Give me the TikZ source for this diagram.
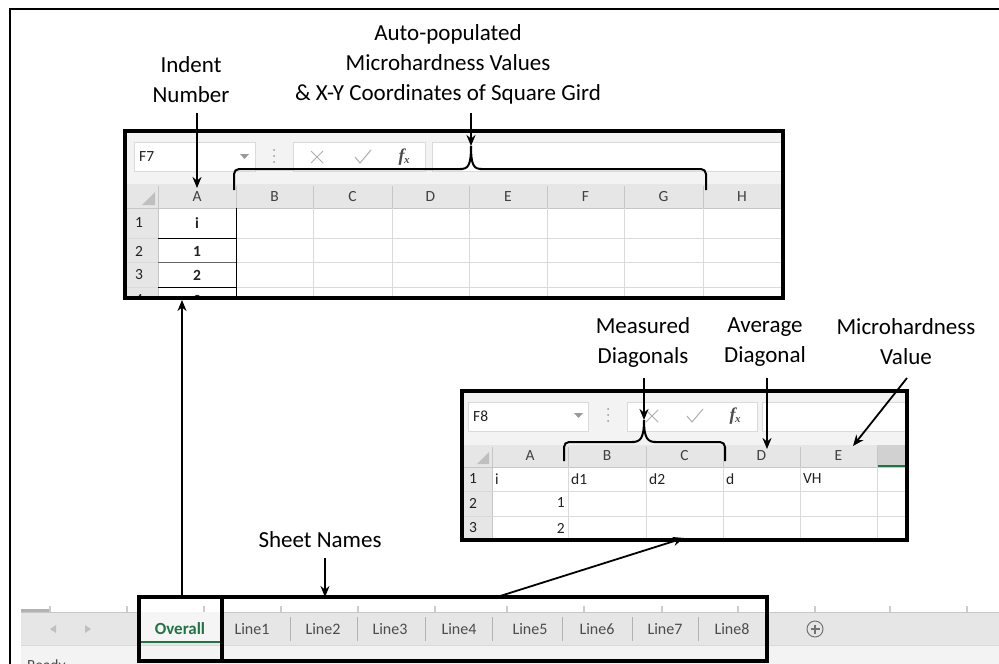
\documentclass[tikz,border=0pt]{standalone}
\usepackage{fontspec}
\setmainfont{Carlito}
\usetikzlibrary{arrows.meta}
\definecolor{hdr}{HTML}{E6E6E6}
\definecolor{bar}{HTML}{F3F3F3}
\definecolor{gridc}{HTML}{DADADA}
\definecolor{hline}{HTML}{C6C6C6}
\definecolor{xlgreen}{HTML}{217346}
\definecolor{txt}{HTML}{222222}
\definecolor{soft}{HTML}{9A9A9A}
\tikzset{
  lbl/.style={font=\fontsize{23}{30}\selectfont, align=center, inner sep=0pt},
  cellt/.style={font=\fontsize{15.5}{17}\selectfont, text=txt, inner sep=0pt},
  hdrt/.style={font=\fontsize{15.5}{17}\selectfont, text=black!75, inner sep=0pt},
  tabt/.style={font=\fontsize{16}{18}\selectfont, text=black!70, inner sep=0pt},
  arr/.style={line width=1.8pt, -{Stealth[length=11pt,width=9pt]}},
  bigbox/.style={draw, line width=3.2pt, inner sep=0pt},
  brace/.style={line width=2pt, rounded corners=5pt},
  whitebox/.style={fill=white, draw=gridc, line width=0.8pt}
}
\newcommand{\fxglyph}{{\fontspec{Liberation Serif}\itshape\bfseries f\kern-0.5pt\raisebox{-2pt}{\fontsize{11}{11}\selectfont x}}}
\begin{document}
\begin{tikzpicture}[x=1pt,y=-1pt]
\useasboundingbox (0,0) rectangle (999,664);
\fill[white] (0,0) rectangle (999,664);
% outer frame
\draw[line width=2.5pt] (10,664) -- (10,9) -- (999,9);

% ---------- labels ----------
\node[lbl] (indent) at (191,80) {Indent\\Number};
\node[lbl] (auto) at (448,64) {Auto-populated\\Microhardness Values\\\& X-Y Coordinates of Square Gird};
\node[lbl] (meas) at (643,342) {Measured\\Diagonals};
\node[lbl] (avg) at (765,342) {Average\\Diagonal};
\node[lbl] (vh) at (906,342) {Microhardness\\Value};
\node[lbl] (sheetn) at (320,540) {Sheet Names};

% ---------- top sheet ----------
\begin{scope}
\clip (125,131) rectangle (783,298);
\fill[bar] (125,131) rectangle (783,184);
\fill[whitebox] (134,142) rectangle (255,171);
\node[cellt, anchor=west] (f7) at (139,157) {F7};
\fill[soft] (240,154) -- (249,154) -- (244.5,159) -- cycle;
\foreach \yy in {150,156,162} \fill[gridc!70!black] (274,\yy) circle (1);
\fill[whitebox] (293,142) rectangle (425,171);
\draw[gridc!80!black, line width=1pt] (311,151) -- (323,163) (323,151) -- (311,163);
\draw[gridc!80!black, line width=1pt] (355,157) -- (360,163) -- (371,150);
\node[text=black!70, font=\fontsize{18}{18}\selectfont] (fx1) at (404,157) {\fxglyph};
\fill[whitebox] (432,142) rectangle (800,171);
% header
\fill[hdr] (125,184) rectangle (783,208);
\fill[hdr] (125,208) rectangle (158,298);
\fill[white] (158,208) rectangle (783,298);
\fill[black!25] (155,205) -- (155,192) -- (142,205) -- cycle;
\foreach \xx in {158,236,313,392,469,547,624,703,781}
  \draw[hline, line width=0.8pt] (\xx,186) -- (\xx,208);
\draw[hline, line width=0.8pt] (125,208) -- (783,208);
\foreach \xx in {236,313,392,469,547,624,703,781}
  \draw[gridc, line width=0.8pt] (\xx,208) -- (\xx,298);
\draw[hline, line width=0.8pt] (158,208) -- (158,298);
\foreach \yy in {238,262,287}
  \draw[gridc, line width=1pt] (125,\yy) -- (783,\yy);
\foreach \c/\xx in {A/197,B/274.5,C/352.5,D/430.5,E/508,F/585.5,G/663.5,H/742}
  \node[hdrt] at (\xx,197) {\c};
\foreach \r/\yy in {1/223,2/251,3/275,4/300}
  \node[cellt, anchor=west] at (135,\yy) {\r};
% column A with black borders
\draw[black, line width=1pt] (158,238) -- (236,238) (158,287) -- (236,287);
\draw[black!60, line width=1pt] (158,262) -- (236,262);
\draw[black, line width=1pt] (236,208) -- (236,298);
\foreach \v/\yy in {i/223,1/251,2/275,3/300}
  \node[cellt, font=\fontsize{15.5}{17}\selectfont\bfseries] at (197,\yy) {\v};
\end{scope}
\node[bigbox, minimum width=658pt, minimum height=167pt] (sheetA) at (454,214.5) {};

% bracket over B-G
\draw[brace] (234,190) -- (234,169) -- (462,169);
\draw[line width=2pt] (460,169) .. controls (468,169) and (471,166) .. (471,146);
\draw[line width=2pt] (482,169) .. controls (474,169) and (471,166) .. (471,146);
\draw[brace] (480,169) -- (706,169) -- (706,190);

% ---------- second sheet ----------
\begin{scope}
\clip (462,391) rectangle (907,540);
\fill[bar] (462,391) rectangle (907,445);
\fill[whitebox] (468,402) rectangle (588,431);
\node[cellt, anchor=west] (f8) at (473,416) {F8};
\fill[soft] (574,413) -- (583,413) -- (578.5,418) -- cycle;
\foreach \yy in {409,415,421} \fill[gridc!70!black] (608,\yy) circle (1);
\fill[whitebox] (627,402) rectangle (757,431);
\draw[gridc!80!black, line width=1pt] (646,410) -- (658,422) (658,410) -- (646,422);
\draw[gridc!80!black, line width=1pt] (687,416) -- (692,422) -- (703,409);
\node[text=black!70, font=\fontsize{18}{18}\selectfont] (fx2) at (735,416) {\fxglyph};
\fill[whitebox] (762,402) rectangle (920,431);
% header
\fill[hdr] (462,445) rectangle (907,467);
\fill[black!18] (877,445) rectangle (907,467);
\fill[xlgreen] (877,465) rectangle (907,467.5);
\fill[hdr] (462,467) rectangle (492,540);
\fill[white] (492,467) rectangle (907,540);
\fill[black!25] (489,464) -- (489,452) -- (477,464) -- cycle;
\foreach \xx in {492,568,646,723,800,877}
  \draw[hline, line width=0.8pt] (\xx,447) -- (\xx,467);
\draw[hline, line width=0.8pt] (462,467) -- (907,467);
\foreach \xx in {568,646,723,800,877}
  \draw[gridc, line width=0.8pt] (\xx,467) -- (\xx,540);
\draw[hline, line width=0.8pt] (492,467) -- (492,540);
\foreach \yy in {491,516}
  \draw[gridc, line width=1pt] (462,\yy) -- (907,\yy);
\foreach \c/\xx in {A/530,B/607,C/684.5,D/761.5,E/838.5}
  \node[hdrt] at (\xx,456) {\c};
\foreach \r/\yy in {1/479,2/503,3/528}
  \node[cellt, anchor=west] at (469,\yy) {\r};
\node[cellt, anchor=west] at (495,479) {i};
\node[cellt, anchor=west] at (571,479) {d1};
\node[cellt, anchor=west] at (649,479) {d2};
\node[cellt, anchor=west] at (726,479) {d};
\node[cellt, anchor=west] at (803,479) {VH};
\node[cellt, anchor=east] at (565,503) {1};
\node[cellt, anchor=east] at (565,528) {2};
\end{scope}
\node[bigbox, minimum width=445pt, minimum height=149pt] (sheetB) at (684.5,465.5) {};

% bracket over B-C
\draw[brace] (564,461) -- (564,442) -- (634,442);
\draw[line width=2pt] (632,442) .. controls (640,442) and (644,439) .. (644,420);
\draw[line width=2pt] (656,442) .. controls (648,442) and (644,439) .. (644,420);
\draw[brace] (654,442) -- (725,442) -- (725,461);

% ---------- tab bar ----------
\fill[hdr] (21,612) rectangle (999,645);
\fill[bar] (21,645) rectangle (999,664);
\draw[hline, line width=1pt] (21,612) -- (999,612);
\draw[black!15, line width=1pt] (21,645.5) -- (999,645.5);
\fill[black!30] (21,609) rectangle (50,612);
\foreach \xx in {50,127,204,281,358,435,507,584,662,738,815,890,967}
  \draw[black!20, line width=1.5pt] (\xx,606) -- (\xx,612);
\fill[white!60!hdr] (140,612) rectangle (221,643);
\fill[xlgreen] (140,641) rectangle (221,643);
\fill[black!25] (50,629) -- (56,625) -- (56,633) -- cycle;
\fill[black!25] (91,629) -- (85,625) -- (85,633) -- cycle;
\node[tabt, text=xlgreen, font=\fontsize{17}{18}\selectfont\bfseries] (tov) at (180,629) {Overall};
\foreach \n/\xx in {1/252,2/323,3/390,4/459,5/530,6/597,7/665,8/732}
  \node[tabt] (t\n) at (\xx,629) {Line\n};
\foreach \xx in {290,357,425,492,562,632,698}
  \draw[black!30, line width=1pt] (\xx,617) -- (\xx,641);
\draw[black!55, line width=1pt] (815,629) circle (8);
\draw[black!55, line width=1.2pt] (810.5,629) -- (819.5,629) (815,624.5) -- (815,633.5);
\begin{scope}
\clip (21,646) rectangle (999,664);
\node[cellt, text=black!70, anchor=north west] (ready) at (27,659.5) {Ready};
\end{scope}

\node[bigbox, minimum width=83pt, minimum height=64pt] (ovbox) at (180.5,629) {};
\node[bigbox, minimum width=545pt, minimum height=64pt] (lnbox) at (494.5,629) {};

% ---------- arrows ----------
\coordinate (indtop) at (197,113);
\coordinate (indtip) at (197,188);
\coordinate (autotop) at (471,113);
\coordinate (autotip) at (471,146);
\coordinate (meastop) at (644,378);
\coordinate (meastip) at (644,420);
\coordinate (avgtop) at (767,378);
\coordinate (avgtip) at (767,449);
\coordinate (vhtop) at (907,378);
\coordinate (vhtip) at (853,446);
\coordinate (sntop) at (325,558);
\coordinate (sntip) at (325,597);
\coordinate (ovtop) at (182,597);
\coordinate (ovtip) at (182,300);
\coordinate (lntop) at (497,597);
\coordinate (lntip) at (684,538);
\draw[arr] (indtop) -- (indtip);
\draw[arr] (autotop) -- (autotip);
\draw[arr] (meastop) -- (meastip);
\draw[arr] (avgtop) -- (avgtip);
\draw[arr] (vhtop) -- (vhtip);
\draw[arr] (sntop) -- (sntip);
\draw[arr] (ovtop) -- (ovtip);
\draw[arr] (lntop) -- (lntip);
\end{tikzpicture}
\end{document}
